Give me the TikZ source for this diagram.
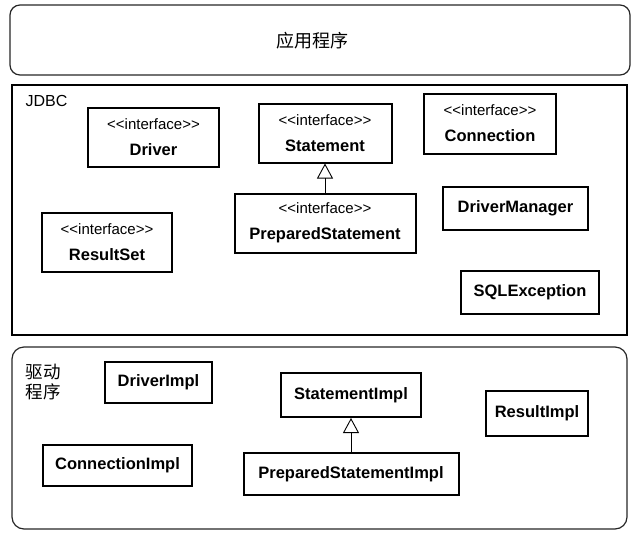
\documentclass[tikz,border=0pt]{standalone}
\usepackage{fontspec}
\setmainfont{Liberation Sans}
\newfontfamily\stereofont{Liberation Sans}
\newfontfamily\cjk{Noto Sans CJK SC}
\usetikzlibrary{arrows.meta}

\tikzset{
  cls/.style={draw, line width=2pt, inner sep=0pt, align=center,
    font=\fontsize{16.5}{19}\selectfont\bfseries},
  frame/.style={draw, line width=1.2pt},
  realize/.style={-{Triangle[open,width=16pt,length=15pt]}, line width=0.9pt},
}
\newcommand{\iface}[1]{{\stereofont\mdseries\fontsize{15}{17}\selectfont <<interface>>}\\[7pt]#1}

\begin{document}
\begin{tikzpicture}[x=1pt,y=-1pt]
\useasboundingbox (0,0) rectangle (644,538);
% application layer
\draw[frame, rounded corners=10pt, draw=black!85] (10,5) rectangle (630,75);
\node[font=\cjk\fontsize{18}{20}\selectfont] (app) at (312.5,41) {应用程序};
% JDBC api
\draw[frame, line width=1.5pt] (12,85) rectangle (627,335);
\node[anchor=west, font=\fontsize{16}{18}\selectfont] (jdbc) at (22,101) {JDBC};
\node[cls, minimum width=131, minimum height=59] (drv) at (153.5,137) {\iface{Driver}};
\node[cls, minimum width=133, minimum height=59] (stmt) at (325,133) {\iface{Statement}};
\node[cls, minimum width=181, minimum height=59] (pstmt) at (325,223) {\iface{PreparedStatement}};
\node[cls, minimum width=132, minimum height=60] (conn) at (490,123.5) {\iface{Connection}};
\node[cls, minimum width=145, minimum height=43] (drvmgr) at (515.5,208.5) {DriverManager};
\node[cls, minimum width=130, minimum height=59] (rset) at (107,242) {\iface{ResultSet}};
\node[cls, minimum width=138, minimum height=43] (sqlex) at (530,292.5) {SQLException};
\draw[realize] (pstmt) -- (stmt);
% driver implementation
\draw[frame, rounded corners=12pt, draw=black!85] (12,347) rectangle (627,529);
\node[anchor=west, align=left, font=\cjk\fontsize{17.5}{20}\selectfont] (impl) at (22,382) {驱动\\程序};
\node[cls, minimum width=107, minimum height=41] (drvimpl) at (158.5,382.5) {DriverImpl};
\node[cls, minimum width=140, minimum height=44] (stmtimpl) at (351,395) {StatementImpl};
\node[cls, minimum width=215, minimum height=42] (pstmtimpl) at (351,474) {PreparedStatementImpl};
\node[cls, minimum width=102, minimum height=45] (rsimpl) at (537,413.5) {ResultImpl};
\node[cls, minimum width=149, minimum height=41] (connimpl) at (117.5,465.5) {ConnectionImpl};
\draw[realize] (pstmtimpl) -- (stmtimpl);
\end{tikzpicture}
\end{document}
